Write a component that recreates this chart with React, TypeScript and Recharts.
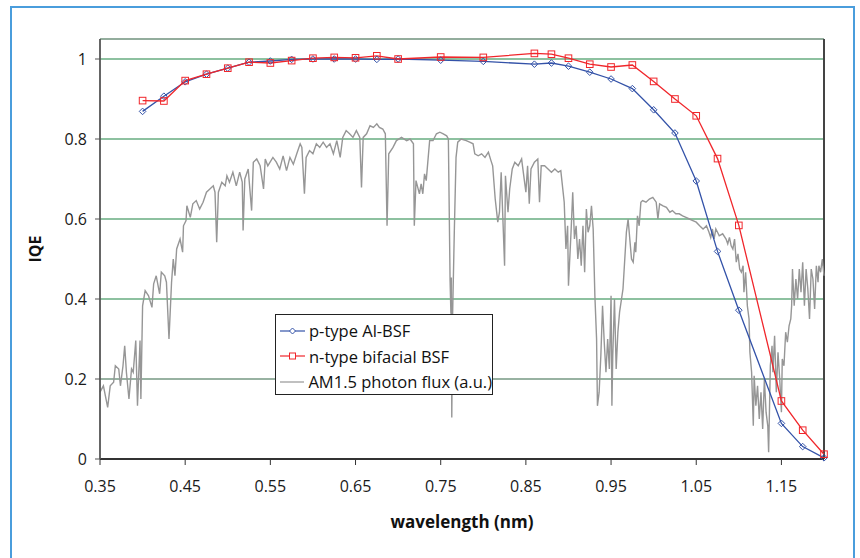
import React from "react";
import { LineChart, Line, XAxis, YAxis, CartesianGrid, ReferenceLine } from "recharts";

const FONT = "'Open Sans', sans-serif";

// axis setup
const xDomain = [0.35, 1.2];
const xTicks = [0.35, 0.45, 0.55, 0.65, 0.75, 0.85, 0.95, 1.05, 1.15];
const yDomain = [0, 1.05];
const yTicks = [0, 0.2, 0.4, 0.6, 0.8, 1];

// IQE measurements (wavelength in um, labelled nm on the axis like the original)
const iqeWavelength = [
  0.4, 0.425, 0.45, 0.475, 0.5, 0.525, 0.55, 0.575, 0.6, 0.625, 0.65, 0.675, 0.7, 0.75, 0.8,
  0.86, 0.88, 0.9, 0.925, 0.95, 0.975, 1.0, 1.025, 1.05, 1.075, 1.1, 1.15, 1.175, 1.2,
];
const pTypeIqe = [
  0.869, 0.907, 0.943, 0.962, 0.977, 0.992, 0.995, 0.999, 1.0, 1.0, 1.0, 0.999, 1.0, 0.997, 0.994,
  0.987, 0.99, 0.982, 0.967, 0.95, 0.926, 0.873, 0.815, 0.695, 0.519, 0.372, 0.089, 0.031, 0.003,
];
const nTypeIqe = [
  0.896, 0.895, 0.946, 0.962, 0.977, 0.992, 0.99, 0.996, 1.002, 1.004, 1.003, 1.008, 1.0, 1.005, 1.004,
  1.014, 1.012, 1.002, 0.987, 0.98, 0.985, 0.944, 0.9, 0.858, 0.751, 0.584, 0.145, 0.072, 0.012,
];

// AM1.5 photon flux, arbitrary units
const fluxWavelength = [
  0.350, 0.354, 0.359, 0.362, 0.366, 0.368, 0.372, 0.374, 0.377, 0.379,
  0.381, 0.384, 0.387, 0.389, 0.392, 0.394, 0.397, 0.398, 0.400, 0.403,
  0.407, 0.411, 0.413, 0.416, 0.420, 0.422, 0.426, 0.428, 0.431, 0.434,
  0.436, 0.438, 0.440, 0.444, 0.447, 0.448, 0.451, 0.452, 0.456, 0.459,
  0.463, 0.467, 0.471, 0.475, 0.479, 0.483, 0.485, 0.487, 0.489, 0.493,
  0.497, 0.499, 0.502, 0.506, 0.510, 0.514, 0.517, 0.518, 0.520, 0.524,
  0.528, 0.530, 0.534, 0.538, 0.542, 0.544, 0.547, 0.553, 0.557,
  0.561, 0.565, 0.569, 0.573, 0.577, 0.581, 0.585, 0.587, 0.590, 0.592,
  0.596, 0.600, 0.604, 0.608, 0.612, 0.616, 0.620, 0.624, 0.628, 0.632,
  0.635, 0.639, 0.643, 0.647, 0.651, 0.655, 0.657, 0.659, 0.663, 0.667,
  0.671, 0.675, 0.678, 0.682, 0.685, 0.687, 0.689, 0.694, 0.698, 0.704,
  0.710, 0.714, 0.718, 0.719, 0.721, 0.725, 0.727, 0.729, 0.731, 0.733,
  0.737, 0.741, 0.745, 0.749, 0.753, 0.757, 0.759, 0.761, 0.762, 0.7625,
  0.763, 0.764, 0.766, 0.768, 0.770, 0.774, 0.780, 0.784,
  0.788, 0.790, 0.794, 0.798, 0.802, 0.806, 0.809, 0.811, 0.814, 0.817,
  0.819, 0.821, 0.823, 0.825, 0.826, 0.829, 0.831, 0.834, 0.837, 0.841,
  0.845, 0.846, 0.850, 0.852, 0.854, 0.856, 0.860, 0.864, 0.866, 0.868,
  0.872, 0.876, 0.880, 0.884, 0.888, 0.891, 0.895, 0.897, 0.899, 0.900,
  0.903, 0.905, 0.907, 0.909, 0.911, 0.913, 0.915, 0.917, 0.919, 0.921,
  0.923, 0.925, 0.927, 0.929, 0.931, 0.933, 0.934, 0.936, 0.938, 0.940,
  0.942, 0.944, 0.946, 0.948, 0.950, 0.951, 0.952, 0.954, 0.956, 0.958,
  0.960, 0.964, 0.968, 0.970, 0.972, 0.974, 0.976, 0.978, 0.979, 0.981,
  0.983,
  0.985, 0.987, 0.991, 0.995, 0.999, 1.003, 1.005, 1.007, 1.011, 1.015,
  1.019, 1.022, 1.026, 1.030, 1.034, 1.038, 1.042, 1.046, 1.050, 1.054,
  1.058, 1.060, 1.062, 1.065, 1.067, 1.069, 1.071, 1.073, 1.075, 1.077,
  1.081, 1.085, 1.087, 1.089, 1.091, 1.093, 1.095, 1.097, 1.099, 1.101,
  1.103, 1.105, 1.106, 1.108, 1.110, 1.112, 1.113, 1.115, 1.117, 1.118,
  1.120, 1.122, 1.124, 1.126, 1.128, 1.130, 1.132, 1.134, 1.135, 1.137,
  1.139, 1.140, 1.142, 1.144, 1.146, 1.148, 1.150, 1.151, 1.153, 1.155,
  1.157, 1.159, 1.161, 1.162, 1.163, 1.165, 1.167, 1.169, 1.171, 1.173,
  1.175, 1.177, 1.179, 1.181, 1.183, 1.185, 1.187, 1.189, 1.191, 1.193,
  1.194, 1.196, 1.198, 1.200,
];
const fluxValue = [
  0.167, 0.183, 0.129, 0.183, 0.192, 0.233, 0.225, 0.183, 0.233, 0.283,
  0.217, 0.150, 0.225, 0.217, 0.296, 0.133, 0.296, 0.150, 0.383, 0.421,
  0.408, 0.379, 0.438, 0.458, 0.413, 0.467, 0.458, 0.442, 0.300, 0.442,
  0.500, 0.458, 0.525, 0.550, 0.517, 0.583, 0.596, 0.633, 0.604, 0.638,
  0.646, 0.625, 0.642, 0.667, 0.675, 0.683, 0.667, 0.542, 0.667, 0.692,
  0.683, 0.708, 0.692, 0.717, 0.683, 0.717, 0.692, 0.571, 0.700, 0.725,
  0.621, 0.742, 0.750, 0.733, 0.675, 0.750, 0.733, 0.754, 0.742,
  0.725, 0.758, 0.721, 0.754, 0.737, 0.763, 0.788, 0.779, 0.663, 0.754,
  0.771, 0.763, 0.788, 0.779, 0.792, 0.779, 0.788, 0.763, 0.796, 0.754,
  0.804, 0.821, 0.813, 0.804, 0.821, 0.804, 0.679, 0.804, 0.813, 0.833,
  0.829, 0.838, 0.829, 0.825, 0.813, 0.583, 0.763, 0.779, 0.796, 0.804,
  0.796, 0.800, 0.788, 0.583, 0.696, 0.663, 0.688, 0.663, 0.713, 0.696,
  0.796, 0.796, 0.813, 0.817, 0.813, 0.808, 0.800, 0.446, 0.363, 0.454,
  0.104, 0.363, 0.571, 0.754, 0.792, 0.800, 0.796, 0.792,
  0.788, 0.763, 0.758, 0.763, 0.754, 0.767, 0.746, 0.733, 0.650, 0.592,
  0.617, 0.717, 0.600, 0.483, 0.708, 0.617, 0.675, 0.725, 0.742, 0.733,
  0.750, 0.733, 0.667, 0.733, 0.638, 0.725, 0.742, 0.750, 0.642, 0.733,
  0.733, 0.725, 0.717, 0.725, 0.717, 0.721, 0.642, 0.525, 0.583, 0.433,
  0.567, 0.667, 0.550, 0.583, 0.500, 0.550, 0.483, 0.583, 0.467, 0.625,
  0.567, 0.583, 0.633, 0.575, 0.408, 0.300, 0.133, 0.167, 0.258, 0.383,
  0.292, 0.217, 0.300, 0.225, 0.408, 0.133, 0.258, 0.400, 0.225, 0.317,
  0.367, 0.425, 0.567, 0.600, 0.550, 0.500, 0.492, 0.542, 0.517, 0.608,
  0.583,
  0.642, 0.646, 0.642, 0.650, 0.654, 0.642, 0.600, 0.638, 0.633, 0.629,
  0.617, 0.621, 0.613, 0.613, 0.608, 0.604, 0.600, 0.596, 0.592, 0.583,
  0.575, 0.579, 0.583, 0.567, 0.554, 0.575, 0.550, 0.575, 0.567, 0.558,
  0.563, 0.550, 0.538, 0.554, 0.533, 0.525, 0.550, 0.492, 0.513, 0.475,
  0.467, 0.483, 0.417, 0.467, 0.383, 0.350, 0.267, 0.217, 0.083, 0.208,
  0.133, 0.183, 0.100, 0.167, 0.075, 0.200, 0.117, 0.083, 0.017, 0.233,
  0.283, 0.217, 0.308, 0.167, 0.267, 0.200, 0.117, 0.250, 0.233, 0.317,
  0.292, 0.333, 0.350, 0.383, 0.475, 0.383, 0.450, 0.400, 0.475, 0.417,
  0.492, 0.383, 0.475, 0.425, 0.350, 0.475, 0.450, 0.375, 0.483, 0.442,
  0.483, 0.467, 0.500, 0.458,
];

const seriesNames = ["p-type Al-BSF", "n-type bifacial BSF", "AM1.5 photon flux (a.u.)"];

const BLUE = "#3352a8";
const RED = "#f0262b";
const GREY = "#969696";
const GREEN = "#67ad81";

const pTypeData = iqeWavelength.map((x, i) => ({ x, y: pTypeIqe[i] }));
const nTypeData = iqeWavelength.map((x, i) => ({ x, y: nTypeIqe[i] }));
const fluxData = fluxWavelength.map((x, i) => ({ x, y: fluxValue[i] }));

const diamondDot = (props: any) => {
  const { cx, cy, index } = props;
  if (cx == null || cy == null) return <g key={`pd-${index}`} />;
  const r = 3.3;
  return (
    <polygon
      key={`pd-${index}`}
      points={`${cx},${cy - r} ${cx + r},${cy} ${cx},${cy + r} ${cx - r},${cy}`}
      fill="none"
      stroke={BLUE}
      strokeWidth={1}
    />
  );
};

const squareDot = (props: any) => {
  const { cx, cy, index } = props;
  if (cx == null || cy == null) return <g key={`nd-${index}`} />;
  const h = 3.3;
  return (
    <rect
      key={`nd-${index}`}
      x={cx - h}
      y={cy - h}
      width={h * 2}
      height={h * 2}
      fill="none"
      stroke={RED}
      strokeWidth={1}
    />
  );
};

const LegendBox = () => {
  const samples = [
    <svg width={25} height={10}>
      <line x1={0} y1={5} x2={25} y2={5} stroke={BLUE} strokeWidth={1.2} />
      <polygon points="12.5,2 15.5,5 12.5,8 9.5,5" fill="#fff" stroke={BLUE} />
    </svg>,
    <svg width={25} height={10}>
      <line x1={0} y1={5} x2={25} y2={5} stroke={RED} strokeWidth={1.2} />
      <rect x={9.5} y={2} width={6} height={6} fill="#fff" stroke={RED} />
    </svg>,
    <svg width={25} height={10}>
      <line x1={0} y1={5} x2={25} y2={5} stroke={GREY} strokeWidth={1.2} />
    </svg>,
  ];
  return (
    <div
      style={{
        position: "absolute",
        left: 275,
        top: 314,
        width: 218,
        height: 81,
        boxSizing: "border-box",
        border: "1.3px solid #222",
        background: "#fff",
        paddingTop: 3,
        fontFamily: FONT,
        fontSize: 16.5,
        color: "#111",
      }}
    >
      {seriesNames.map((name, i) => (
        <div key={name} style={{ display: "flex", alignItems: "center", height: 25.5, paddingLeft: 4 }}>
          {samples[i]}
          <span style={{ marginLeft: 4, whiteSpace: "nowrap" }}>{name}</span>
        </div>
      ))}
    </div>
  );
};

const App = () => {
  const tickStyle = { fill: "#1a1a1a", fontSize: 16, fontFamily: FONT };
  return (
    <div
      style={{
        position: "fixed",
        left: 0,
        top: 0,
        width: 860,
        height: 558,
        overflow: "hidden",
        background: "#fff",
        fontFamily: FONT,
      }}
    >
      <div style={{ position: "absolute", left: 0, top: 0 }}>
        <LineChart width={860} height={558} margin={{ top: 39, right: 36, bottom: 59, left: 30 }}>
          <CartesianGrid horizontal vertical={false} stroke={GREEN} strokeWidth={1.4} />
          <ReferenceLine y={0.2} stroke="#a3a3a3" strokeWidth={1.2} />
          <ReferenceLine y={yDomain[1]} stroke="#9a9a9a" strokeWidth={1.2} />
          <ReferenceLine x={xDomain[1]} stroke="#444" strokeWidth={2} />
          <XAxis
            type="number"
            dataKey="x"
            domain={xDomain}
            ticks={xTicks}
            interval={0}
            height={40}
            tickSize={6}
            tickMargin={16}
            tick={tickStyle}
            stroke="#333"
            axisLine={{ stroke: "#333", strokeWidth: 1.8 }}
            tickLine={{ stroke: "#333" }}
            label={{
              value: "wavelength (nm)",
              position: "bottom",
              offset: 17,
              style: { fontFamily: FONT, fontSize: 17, fontWeight: 700, fill: "#111" },
            }}
          />
          <YAxis
            type="number"
            domain={yDomain}
            ticks={yTicks}
            interval={0}
            width={70}
            tickSize={5}
            tickMargin={8}
            tick={tickStyle}
            axisLine={{ stroke: "#555", strokeWidth: 1.8 }}
            tickLine={{ stroke: "#555" }}
            label={{
              value: "IQE",
              angle: -90,
              position: "insideLeft",
              offset: 5,
              style: { fontFamily: FONT, fontSize: 16, fontWeight: 700, fill: "#111", textAnchor: "middle" },
            }}
          />
          <Line
            data={fluxData}
            dataKey="y"
            name={seriesNames[2]}
            stroke={GREY}
            strokeWidth={1.4}
            dot={false}
            isAnimationActive={false}
          />
          <Line
            data={pTypeData}
            dataKey="y"
            name={seriesNames[0]}
            stroke={BLUE}
            strokeWidth={1.3}
            dot={diamondDot}
            isAnimationActive={false}
          />
          <Line
            data={nTypeData}
            dataKey="y"
            name={seriesNames[1]}
            stroke={RED}
            strokeWidth={1.3}
            dot={squareDot}
            isAnimationActive={false}
          />
        </LineChart>
      </div>
      <LegendBox />
      <div
        style={{
          position: "absolute",
          left: 10,
          top: 6,
          width: 845,
          height: 600,
          boxSizing: "border-box",
          border: "2px solid #4a9ddc",
          pointerEvents: "none",
        }}
      />
    </div>
  );
};

export default App;
